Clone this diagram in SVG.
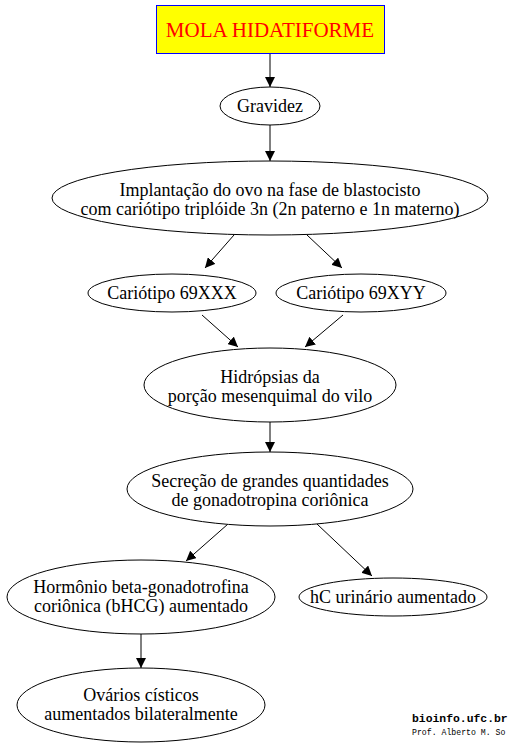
<svg xmlns="http://www.w3.org/2000/svg" width="509" height="746" viewBox="0 0 509 746">
<defs>
<marker id="ah" viewBox="0 0 10 10" refX="10" refY="5" markerWidth="10" markerHeight="10" markerUnits="userSpaceOnUse" orient="auto">
<path d="M0,0 L10,5 L0,10 z" fill="#000"/>
</marker>
<style>
.n{fill:#fff;stroke:#000;stroke-width:1}
.e{stroke:#000;stroke-width:1;fill:none;marker-end:url(#ah)}
</style>
</defs>
<rect width="509" height="746" fill="#fff"/>
<g id="connectors">
<line class="e" x1="270" y1="53" x2="270" y2="87"/>
<line class="e" x1="270" y1="125" x2="270" y2="161"/>
<line class="e" x1="234" y1="235" x2="205" y2="268"/>
<line class="e" x1="307" y1="235" x2="342" y2="268"/>
<line class="e" x1="202" y1="315" x2="238" y2="347"/>
<line class="e" x1="343" y1="315" x2="305" y2="347"/>
<line class="e" x1="270" y1="422" x2="270" y2="452"/>
<line class="e" x1="228" y1="524" x2="186" y2="561"/>
<line class="e" x1="317" y1="524" x2="372" y2="576"/>
<line class="e" x1="141" y1="634" x2="141" y2="668"/>
</g>
<g id="mola">
<rect x="156.5" y="5.5" width="228" height="48" fill="#ffff00" stroke="#0000ff" stroke-width="1"/>
<text x="270" y="37" font-family="Liberation Serif, Times New Roman, serif" font-size="21" fill="#ff0000" text-anchor="middle">MOLA HIDATIFORME</text>
</g>
<g font-family="Liberation Serif, Times New Roman, serif" font-size="18" fill="#000" text-anchor="middle">
<g id="gravidez">
<ellipse class="n" cx="270" cy="106" rx="50" ry="19"/>
<text x="270" y="112">Gravidez</text>
</g>
<g id="implantacao">
<ellipse class="n" cx="270" cy="198" rx="218" ry="37"/>
<text x="270" y="196">Implantação do ovo na fase de blastocisto</text>
<text x="270" y="215">com cariótipo triplóide 3n (2n paterno e 1n materno)</text>
</g>
<g id="xxx">
<ellipse class="n" cx="172" cy="293" rx="84" ry="19"/>
<text x="172" y="299">Cariótipo 69XXX</text>
</g>
<g id="xyy">
<ellipse class="n" cx="361" cy="293" rx="85" ry="19"/>
<text x="361" y="299">Cariótipo 69XYY</text>
</g>
<g id="hidropsias">
<ellipse class="n" cx="270" cy="385" rx="126" ry="37"/>
<text x="270" y="383">Hidrópsias da</text>
<text x="270" y="402">porção mesenquimal do vilo</text>
</g>
<g id="secrecao">
<ellipse class="n" cx="270" cy="489" rx="143" ry="37"/>
<text x="270" y="487">Secreção de grandes quantidades</text>
<text x="270" y="506">de gonadotropina coriônica</text>
</g>
<g id="hormonio">
<ellipse class="n" cx="141" cy="597" rx="134" ry="37"/>
<text x="141" y="593">Hormônio beta-gonadotrofina</text>
<text x="141" y="612">coriônica (bHCG) aumentado</text>
</g>
<g id="hc">
<ellipse class="n" cx="393" cy="597" rx="94" ry="19"/>
<text x="393" y="603">hC urinário aumentado</text>
</g>
<g id="ovarios">
<ellipse class="n" cx="141" cy="705" rx="124" ry="37"/>
<text x="141" y="701">Ovários císticos</text>
<text x="141" y="720">aumentados bilateralmente</text>
</g>
</g>
<text x="412" y="722" font-family="Liberation Mono, DejaVu Sans Mono, monospace" font-size="11.4" font-weight="bold" fill="#000">bioinfo.ufc.br</text>
<text x="412" y="735" font-family="Liberation Mono, DejaVu Sans Mono, monospace" font-size="8.2" fill="#000">Prof. Alberto M. So</text>
</svg>
